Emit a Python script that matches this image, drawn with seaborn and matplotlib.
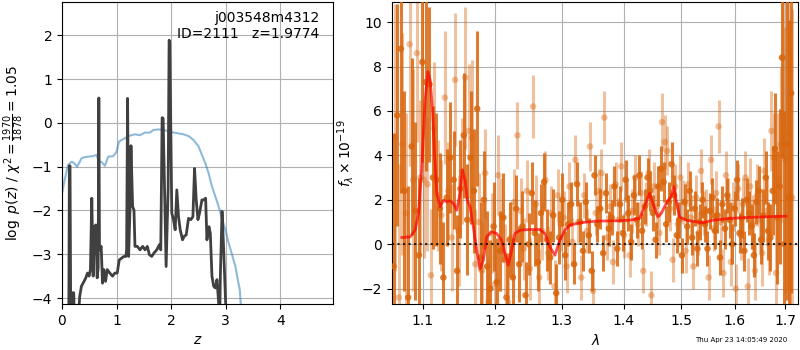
import numpy as np
import pandas as pd
import matplotlib
matplotlib.use('Agg')
import matplotlib.pyplot as plt
import matplotlib.ticker as mticker
import seaborn as sns

# p(z) panel
pz_z = [0.08, 0.123, 0.135, 0.147, 0.160, 0.178, 0.215, 0.227, 0.294, 0.325,
        0.356, 0.387, 0.436, 0.466, 0.497, 0.521, 0.546, 0.571, 0.595, 0.620,
        0.644, 0.663, 0.675, 0.687, 0.718, 0.742, 0.767, 0.798, 0.828, 0.877,
        0.926, 0.969, 1.012, 1.049, 1.092, 1.135, 1.172, 1.184, 1.202, 1.221,
        1.245, 1.264, 1.294, 1.319, 1.337, 1.380, 1.429, 1.479, 1.521, 1.564,
        1.601, 1.644, 1.687, 1.736, 1.785, 1.810, 1.835, 1.853, 1.908, 1.945,
        1.963, 1.975, 2.012, 2.043, 2.074, 2.104, 2.135, 2.166, 2.209, 2.239,
        2.276, 2.319, 2.362, 2.399, 2.429, 2.460, 2.491, 2.521, 2.564, 2.595,
        2.632, 2.656, 2.693, 2.718, 2.748, 2.779, 2.810, 2.840, 2.871, 2.890,
        2.902, 2.933, 2.963, 2.994, 3.012, 3.10]
pz_logp = [-5.0, -5.0, -0.98, -0.98, -4.5, -3.88, -3.88, -4.5, -4.5, -3.96,
           -3.73, -3.66, -3.54, -3.43, -3.50, -3.35, -1.72, -3.50, -2.37, -2.33,
           -3.54, -3.30, 0.57, -2.90, -2.82, -3.66, -3.35, -3.62, -3.35, -3.43,
           -3.50, -3.43, -3.43, -3.13, -3.09, -3.05, -3.05, -2.90, 0.56, -3.05,
           -2.00, -0.52, -1.91, -1.99, -2.82, -2.82, -2.90, -2.82, -2.90, -2.82,
           -3.01, -3.05, -2.97, -2.90, -2.78, -2.90, 0.12, 0.10, -3.28, -1.50,
           1.89, 1.85, -2.06, -2.21, -2.44, -1.53, -2.14, -2.44, -2.67, -2.59,
           -2.56, -2.18, -2.21, -2.14, -1.04, -1.76, -2.21, -2.06, -1.76, -1.76,
           -1.72, -2.67, -2.37, -2.52, -3.50, -3.73, -3.77, -3.58, -4.11, -4.5,
           -3.50, -2.02, -2.90, -3.96, -4.5, -5.0]

chi_z = [0.0, 0.049, 0.110, 0.172, 0.215, 0.276, 0.325, 0.356, 0.387, 0.479,
         0.571, 0.632, 0.675, 0.724, 0.785, 0.847, 0.939, 1.0, 1.043, 1.092,
         1.153, 1.215, 1.276, 1.337, 1.429, 1.521, 1.613, 1.675, 1.767, 1.859,
         1.951, 2.043, 2.135, 2.227, 2.319, 2.411, 2.503, 2.564, 2.626, 2.687,
         2.748, 2.810, 2.871, 2.933, 2.994, 3.055, 3.117, 3.178, 3.221, 3.258,
         3.276, 3.30]
chi_val = [-1.61, -1.30, -0.96, -0.89, -0.91, -1.00, -0.89, -0.81, -0.79, -0.77,
           -0.76, -0.73, -0.89, -0.89, -0.98, -0.77, -0.76, -0.66, -0.43, -0.39,
           -0.35, -0.30, -0.28, -0.26, -0.28, -0.22, -0.22, -0.16, -0.15, -0.16,
           -0.19, -0.22, -0.24, -0.26, -0.30, -0.39, -0.54, -0.73, -0.92, -1.15,
           -1.45, -1.68, -1.91, -2.18, -2.44, -2.75, -3.01, -3.28, -3.58, -3.81,
           -4.13, -4.42]

# spectrum panel: two sets of points on a regular wavelength grid
wave_a = np.linspace(1.062, 1.712, 140)
flux_a = [-1.0, 5.8, 8.8, 2.4, -2.4, 4.4, 1.5, -0.5, 8.2, 7.3, 7.2, 3.0,
          2.9, 1.6, -1.5, 2.1, 3.9, 2.9, -1.2, 2.5, 4.9, 1.1, 3.9, 2.4, 6.1,
          -0.6, 2.0, -1.0, -2.0, 0.8, -1.7, -0.3, 1.2, -2.4, 0.2, -1.5, 1.6, -0.9,
          0.8, -2.3, 0.0, 2.3, 0.5, -0.8, 1.4, 2.8, 0.2, -0.6, 1.3, -2.2, 0.3,
          2.0, -0.5, 0.9, 1.8, -0.9, 2.7, 1.0, -0.3, 1.9, 0.4, -1.2, 3.1, 0.9, 1.6,
          -0.4, 2.3, 0.7, 1.2, 2.6, -0.2, 1.8, 0.5, 2.9, 1.4, 0.1, 2.2, 1.1, 3.1,
          0.6, 1.7,
          3.0, 2.4, 1.4, 0.2, 2.6, 3.4, 2.8, 0.9, 1.9, 3.6, 2.2, 0.4, 1.1, -0.5,
          1.9, 0.8, 2.4, 0.3, 1.6, -0.2, 1.0, 2.0,
          0.9, -0.2, 1.5, 2.1, 0.6, 1.3, -0.6, 1.8, 0.7, 2.2, 1.1, 0.0, 1.6, 2.9,
          0.5, 1.2, -0.3, 2.0, 1.4, 0.8, -0.5, 1.9, 2.4, 0.2, 1.3, 3.0, 0.6,
          0.3, 2.4, 4.3, 1.2, 2.6, 8.4, 0.0, 4.5, 2.1, 6.8]
err_a = [6.0, 5.0, 6.5, 4.5, 5.0, 4.0, 4.0, 3.5, 4.5, 4.0, 3.5, 3.2,
         3.0, 2.5, 2.5, 2.2, 2.5, 2.2, 2.5, 2.2, 2.8, 2.5, 3.0, 2.8, 3.5,
         2.5, 2.2, 2.5, 2.2, 2.0, 2.0, 1.8, 2.0, 2.0, 1.7, 1.8, 1.5, 1.7,
         1.6, 1.5, 1.4, 1.4, 1.5, 1.3, 1.3, 1.3, 1.4, 1.2, 1.2, 1.3, 1.2,
         1.2, 1.1, 1.0, 1.0, 0.9, 1.0, 0.9, 0.9, 0.9, 0.8, 0.9, 0.9, 0.8, 0.9,
         0.8, 0.9, 0.8, 0.8, 0.9, 0.8, 0.8, 0.8, 0.9, 0.8, 0.8, 0.9, 0.8, 0.9,
         0.8, 0.8,
         0.9, 0.9, 0.8, 0.8, 0.9, 1.0, 0.9, 0.8, 0.9, 1.0, 0.9, 0.8, 0.8, 0.8,
         0.8, 0.8, 0.9, 0.8, 0.8, 0.8, 0.8, 0.8,
         0.8, 0.8, 0.8, 0.9, 0.8, 0.8, 0.8, 0.8, 0.9, 0.8, 0.8, 0.9, 0.8, 0.9,
         0.9, 0.9, 0.9, 1.0, 1.0, 1.0, 1.0, 1.0, 1.1, 1.1, 1.2, 1.2, 1.3,
         1.5, 2.0, 2.5, 3.0, 3.5, 4.5, 6.0, 7.0, 8.0, 9.0]

wave_b = np.linspace(1.064, 1.714, 140)
flux_b = [4.8, -2.4, 4.5, 1.4, 9.0, 2.9, 8.6, 3.0, 2.9, 2.7, -1.4, 5.2,
          2.2, 1.3, 6.6, 2.4, 0.3, 7.4, 0.6, 3.3, 7.5, 5.1, 4.8, -0.9, 1.0,
          -1.2, 3.2, -2.6, 0.5, -1.8, 3.1, 1.3, -0.7, -2.6, 0.3, 1.9, 4.9, 1.5,
          -0.2, 2.4, -1.1, 6.2, 1.8, -1.5, 0.6, 2.9, -0.4, 1.4, -1.9, 2.2, 0.9,
          1.2, -1.0, 2.6, 0.1, 3.8, 1.0, -1.5, 2.2, 0.6, 4.4, -2.1, 1.4, 2.4, 3.2,
          5.7, 0.3, 1.7, -0.8, 2.7, 1.1, 3.5, 0.4, 2.0, -0.5, 1.5, 3.0, 0.9, 2.3,
          -1.2, 1.8,
          3.2, -2.3, 2.6, 1.7, 0.5, 5.5, 4.6, 4.2, 1.6, -0.7, 2.6, 0.9, 3.0, 1.9,
          -0.3, 2.7, 1.2, -1.0, 2.1, 0.5, 3.3, 1.4,
          1.5, -1.5, 3.8, 0.7, 2.3, 5.3, 1.0, -1.3, 3.1, 2.0, -0.8, 1.7, -2.0, 2.5,
          0.4, 1.8, 3.0, -1.9, 2.6, 0.9, -1.2, 2.2, 1.1, -0.4, 3.3, 1.5, 0.2,
          5.1, 3.9, -1.3, 2.9, 4.5, 8.4, 3.8, 5.0, 2.0, 2.1]
err_b = [6.0, 6.0, 5.0, 4.5, 5.5, 5.0, 4.0, 3.5, 3.5, 3.0, 3.0, 3.0,
         2.5, 2.5, 3.0, 2.2, 2.4, 3.0, 2.5, 2.4, 3.2, 3.0, 3.5, 2.5, 2.2,
         2.2, 2.0, 2.0, 1.8, 1.8, 1.8, 1.7, 1.6, 1.6, 1.6, 1.5, 1.5, 1.5,
         1.4, 1.4, 1.4, 1.4, 1.3, 1.3, 1.3, 1.3, 1.2, 1.2, 1.2, 1.2, 1.2,
         1.2, 1.2, 1.1, 1.1, 1.1, 1.0, 1.0, 1.0, 1.0, 1.1, 1.0, 1.0, 1.0, 1.1,
         1.2, 1.0, 1.0, 1.0, 1.0, 1.0, 1.1, 1.0, 1.0, 1.0, 1.0, 1.0, 1.0, 1.0,
         1.0, 1.0,
         1.1, 1.1, 1.1, 1.0, 1.0, 1.3, 1.2, 1.1, 1.0, 1.0, 1.0, 1.0, 1.0, 1.0,
         1.0, 1.0, 1.0, 1.0, 1.0, 1.0, 1.0, 1.0,
         1.0, 1.0, 1.1, 1.0, 1.0, 1.2, 1.0, 1.1, 1.1, 1.0, 1.1, 1.1, 1.1, 1.1,
         1.1, 1.2, 1.2, 1.3, 1.3, 1.3, 1.3, 1.4, 1.4, 1.5, 1.5, 1.6, 1.6,
         1.8, 2.0, 2.5, 3.0, 3.5, 4.5, 6.0, 7.0, 8.0, 8.5]

model_wave = [1.0727, 1.0834, 1.0899, 1.0943, 1.0987, 1.1031, 1.1066, 1.1097, 1.1128, 1.1155,
              1.1186, 1.1231, 1.1276, 1.1321, 1.1366, 1.1412, 1.1457, 1.1503, 1.1535, 1.1572,
              1.1604, 1.1642, 1.1688, 1.1735, 1.1782, 1.1829, 1.1876, 1.1948, 1.2020, 1.2092,
              1.2140, 1.2189, 1.2238, 1.2287, 1.2361, 1.2510, 1.2661, 1.2737, 1.2813, 1.2890,
              1.2968, 1.3046, 1.3124, 1.3282, 1.3550, 1.3823, 1.4101, 1.4271, 1.4356, 1.4443,
              1.4501, 1.4588, 1.4646, 1.4734, 1.4823, 1.4871, 1.4912, 1.4972, 1.5092, 1.5274,
              1.5397, 1.5582, 1.5896, 1.6217, 1.6544, 1.7013]
model_flux = [0.30, 0.33, 0.63, 1.38, 3.49, 6.50, 7.77, 7.40, 6.05, 4.09,
              2.29, 1.68, 1.98, 1.91, 1.95, 1.83, 1.53, 2.29, 3.34, 2.89,
              1.98, 1.68, 0.78, -0.27, -1.10, -0.72, 0.33, 0.56, 0.48, 0.18,
              -0.42, -0.95, -0.27, 0.48, 0.63, 0.66, 0.66, 0.48, -0.12, -0.50,
              0.18, 0.63, 0.86, 0.96, 1.04, 1.05, 1.08, 1.16, 1.68, 2.29,
              1.83, 1.23, 1.38, 1.83, 2.14, 2.59, 1.98, 1.23, 1.08, 1.01,
              0.96, 1.08, 1.16, 1.20, 1.23, 1.26]

orange = (0.85, 0.40, 0.05)

fig = plt.figure(figsize=(8, 3.5), dpi=100)
ax1 = fig.add_axes([0.0775, 0.131, 0.339, 0.863])
ax2 = fig.add_axes([0.49, 0.131, 0.508, 0.863])

# left: log p(z) and chi2
sns.lineplot(x=chi_z, y=chi_val, ax=ax1, color='#1f77b4', alpha=0.5,
             linewidth=1.5, sort=False, estimator=None)
sns.lineplot(x=pz_z, y=pz_logp, ax=ax1, color='0.25', linewidth=2,
             sort=False, estimator=None)
ax1.set_xlim(0, 4.97)
ax1.set_ylim(-4.14, 2.76)
ax1.set_xticks([0, 1, 2, 3, 4])
ax1.set_yticks([-4, -3, -2, -1, 0, 1, 2])
ax1.grid()
ax1.set_xlabel(r'$z$')
ax1.set_ylabel(r'$\log\ p(z)$ / $\chi^2=\frac{1970}{1878}=1.05$')
ax1.text(0.95, 0.97, 'j003548m4312\nID=2111   z=1.9774', transform=ax1.transAxes,
         ha='right', va='top', fontsize=10, linespacing=1.2)

# right: spectrum
ax2.errorbar(wave_b, flux_b, yerr=err_b, fmt='none', ecolor=orange, alpha=0.4,
             elinewidth=2.2, zorder=2)
sns.scatterplot(x=wave_b, y=flux_b, ax=ax2, color=orange, alpha=0.4, s=22,
                edgecolor='none', zorder=2)
ax2.errorbar(wave_a, flux_a, yerr=err_a, fmt='none', ecolor=orange, alpha=0.85,
             elinewidth=2.2, zorder=3)
sns.scatterplot(x=wave_a, y=flux_a, ax=ax2, color=orange, alpha=0.85, s=22,
                edgecolor='none', zorder=3)
sns.lineplot(x=model_wave, y=model_flux, ax=ax2, color='red', alpha=0.7,
             linewidth=2, sort=False, estimator=None, zorder=4)
ax2.axhline(0, color='k', linestyle=':', linewidth=1.5, alpha=0.8, zorder=5)

ax2.set_xscale('log')
ticks = [1.1, 1.2, 1.3, 1.4, 1.5, 1.6, 1.7]
ax2.set_xticks(ticks)
ax2.set_xticklabels(['{:.1f}'.format(t) for t in ticks])
ax2.xaxis.set_minor_locator(mticker.NullLocator())
ax2.set_xlim(1.06, 1.727)
ax2.set_ylim(-2.7, 10.9)
ax2.set_yticks([-2, 0, 2, 4, 6, 8, 10])
ax2.grid()
ax2.set_xlabel(r'$\lambda$')
ax2.set_ylabel(r'$f_\lambda\times10^{-19}$')

fig.text(0.984, 0.029, 'Thu Apr 23 14:05:49 2020', ha='right', va='center', fontsize=5)

fig.savefig('out.png', dpi=100)
